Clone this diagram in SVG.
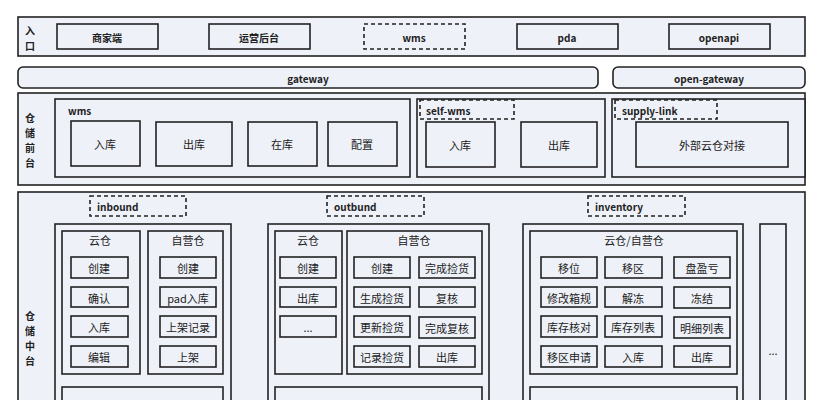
<svg xmlns="http://www.w3.org/2000/svg" width="823" height="400" viewBox="0 0 823 400">
<style>
rect{fill:#eef1f8;stroke:#222;stroke-width:1.6}
.d{stroke-dasharray:4 3}
text{font-family:"Noto Sans CJK SC","Noto Sans",sans-serif;font-size:11px;fill:#222;text-anchor:middle;dominant-baseline:central}
.b{font-weight:bold;font-size:10px}
.l{text-anchor:start}
</style>
<rect width="823" height="400" style="fill:#fff;stroke:none"/>
<g id="entry">
<rect x="18" y="17" width="787" height="39"/>
<text x="30" y="30" class="b">入</text><text x="30" y="45" class="b">口</text>
<rect x="57" y="24" width="101" height="25"/><text x="107" y="37" class="b">商家端</text>
<rect x="209" y="24" width="101" height="25"/><text x="259" y="37" class="b">运营后台</text>
<rect x="364" y="24" width="101" height="25" class="d"/><text x="414" y="37" class="b">wms</text>
<rect x="517" y="24" width="101" height="25"/><text x="567" y="37" class="b">pda</text>
<rect x="669" y="24" width="101" height="25"/><text x="719" y="37" class="b">openapi</text>
</g>
<g id="gateway"><rect x="18" y="67" width="580" height="21" rx="5"/><text x="308" y="78" class="b">gateway</text></g>
<g id="open-gateway"><rect x="613" y="67" width="192" height="21" rx="5"/><text x="709" y="78" class="b">open-gateway</text></g>
<g id="front">
<rect x="18" y="93" width="787" height="92"/>
<text x="30" y="117" class="b">仓</text><text x="30" y="132" class="b">储</text><text x="30" y="147" class="b">前</text><text x="30" y="162" class="b">台</text>
<rect x="55" y="99" width="355" height="78"/><text x="68" y="110" class="b l">wms</text>
<rect x="71" y="121" width="69" height="45"/><text x="105" y="144">入库</text>
<rect x="156" y="122" width="76" height="44"/><text x="194" y="144">出库</text>
<rect x="248" y="122" width="69" height="44"/><text x="282" y="144">在库</text>
<rect x="328" y="122" width="69" height="44"/><text x="362" y="144">配置</text>
<rect x="417" y="99" width="188" height="78"/><rect x="420" y="100" width="94" height="19" class="d"/><text x="426" y="110" class="b l">self-wms</text>
<rect x="426" y="122" width="69" height="45"/><text x="460" y="145">入库</text>
<rect x="521" y="122" width="76" height="45"/><text x="559" y="145">出库</text>
<rect x="612" y="99" width="193" height="78"/><rect x="615" y="100" width="102" height="19" class="d"/><text x="622" y="110" class="b l">supply-link</text>
<rect x="636" y="122" width="152" height="45"/><text x="712" y="145">外部云仓对接</text>
</g>
<g id="middle">
<rect x="18" y="192" width="787" height="215"/>
<text x="30" y="315" class="b">仓</text><text x="30" y="330" class="b">储</text><text x="30" y="345" class="b">中</text><text x="30" y="360" class="b">台</text>
</g>
<g id="inbound">
<rect x="90" y="196" width="96" height="20" class="d"/><text x="97" y="206" class="b l">inbound</text>
<rect x="55" y="224" width="176" height="190"/>
<rect x="62" y="231" width="78" height="143"/><text x="100" y="240">云仓</text>
<rect x="71" y="257" width="57" height="21"/><text x="99" y="268">创建</text>
<rect x="71" y="287" width="57" height="20"/><text x="99" y="298">确认</text>
<rect x="71" y="316" width="57" height="21"/><text x="99" y="327">入库</text>
<rect x="71" y="346" width="57" height="21"/><text x="99" y="357">编辑</text>
<rect x="148" y="231" width="75" height="143"/><text x="188" y="240">自营仓</text>
<rect x="160" y="257" width="56" height="21"/><text x="188" y="268">创建</text>
<rect x="160" y="287" width="56" height="20"/><text x="188" y="298">pad入库</text>
<rect x="160" y="316" width="56" height="21"/><text x="188" y="327">上架记录</text>
<rect x="160" y="346" width="56" height="21"/><text x="188" y="357">上架</text>
<rect x="62" y="387" width="161" height="30"/>
</g>
<g id="outbund">
<rect x="327" y="196" width="97" height="20" class="d"/><text x="334" y="206" class="b l">outbund</text>
<rect x="268" y="224" width="221" height="190"/>
<rect x="275" y="231" width="67" height="143"/><text x="308" y="240">云仓</text>
<rect x="280" y="257" width="56" height="21"/><text x="308" y="268">创建</text>
<rect x="280" y="287" width="56" height="20"/><text x="308" y="298">出库</text>
<rect x="280" y="316" width="56" height="21"/><text x="308" y="327">...</text>
<rect x="347" y="231" width="135" height="143"/><text x="414" y="240">自营仓</text>
<rect x="354" y="257" width="56" height="21"/><text x="382" y="268">创建</text>
<rect x="354" y="287" width="56" height="20"/><text x="382" y="298">生成捡货</text>
<rect x="354" y="316" width="56" height="21"/><text x="382" y="327">更新捡货</text>
<rect x="354" y="346" width="56" height="21"/><text x="382" y="357">记录捡货</text>
<rect x="419" y="257" width="56" height="21"/><text x="447" y="268">完成捡货</text>
<rect x="419" y="287" width="56" height="20"/><text x="447" y="298">复核</text>
<rect x="419" y="317" width="56" height="21"/><text x="447" y="328">完成复核</text>
<rect x="419" y="346" width="56" height="21"/><text x="447" y="357">出库</text>
<rect x="275" y="387" width="207" height="30"/>
</g>
<g id="inventory">
<rect x="588" y="196" width="97" height="20" class="d"/><text x="595" y="206" class="b l">inventory</text>
<rect x="523" y="224" width="220" height="190"/>
<rect x="530" y="231" width="207" height="143"/><text x="634" y="240">云仓/自营仓</text>
<rect x="541" y="257" width="56" height="21"/><text x="569" y="268">移位</text>
<rect x="605" y="257" width="57" height="21"/><text x="633" y="268">移区</text>
<rect x="674" y="257" width="56" height="21"/><text x="702" y="268">盘盈亏</text>
<rect x="541" y="287" width="56" height="20"/><text x="569" y="298">修改箱规</text>
<rect x="605" y="287" width="57" height="20"/><text x="633" y="298">解冻</text>
<rect x="674" y="287" width="56" height="21"/><text x="702" y="298">冻结</text>
<rect x="541" y="316" width="56" height="21"/><text x="569" y="327">库存核对</text>
<rect x="605" y="316" width="57" height="21"/><text x="633" y="327">库存列表</text>
<rect x="674" y="317" width="56" height="21"/><text x="702" y="328">明细列表</text>
<rect x="541" y="346" width="56" height="21"/><text x="569" y="357">移区申请</text>
<rect x="605" y="346" width="57" height="21"/><text x="633" y="357">入库</text>
<rect x="674" y="346" width="56" height="21"/><text x="702" y="357">出库</text>
<rect x="530" y="387" width="207" height="30"/>
</g>
<g id="more"><rect x="760" y="224" width="26" height="190"/><text x="773" y="350">...</text></g>
<g id="connectors"></g>
</svg>
